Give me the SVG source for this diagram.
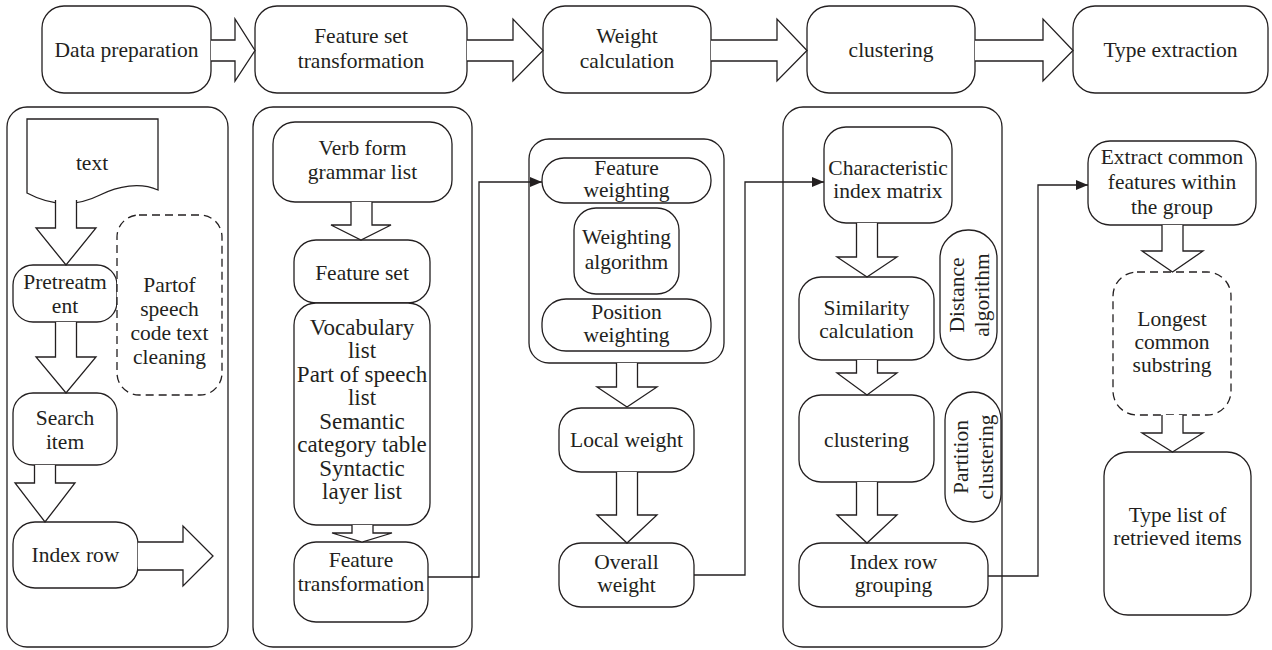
<svg xmlns="http://www.w3.org/2000/svg" width="1272" height="650" viewBox="0 0 1272 650">
<defs>
<style>
.b{fill:#fff;stroke:#231f20;stroke-width:1.3}
.d{fill:#fff;stroke:#231f20;stroke-width:1.3;stroke-dasharray:8 5}
.a{fill:#fff;stroke:#231f20;stroke-width:1.3;stroke-linejoin:miter}
.c{fill:none;stroke:#231f20;stroke-width:1.3}
text{font-family:"Liberation Serif","Times New Roman",serif;font-size:21.5px;fill:#231f20;text-anchor:middle}
.v text,text.v{font-size:23px}
</style>
<marker id="ah" markerWidth="12" markerHeight="10" refX="12" refY="5" orient="auto" markerUnits="userSpaceOnUse">
<path d="M0,0 L12,5 L0,10 Z" fill="#231f20"/>
</marker>
</defs>
<rect width="1272" height="650" fill="#fff"/>

<!-- Top row -->
<g id="top-data-preparation"><rect class="b" x="42" y="6" width="169" height="87" rx="22"/><text x="126.5" y="57">Data preparation</text></g>
<g id="top-feature-set-transformation"><rect class="b" x="255" y="6" width="212" height="87" rx="22"/><text x="361" y="43">Feature set</text><text x="361" y="68">transformation</text></g>
<g id="top-weight-calculation"><rect class="b" x="543" y="6" width="168" height="87" rx="22"/><text x="627" y="43">Weight</text><text x="627" y="68">calculation</text></g>
<g id="top-clustering"><rect class="b" x="807" y="6" width="168" height="87" rx="22"/><text x="891" y="57">clustering</text></g>
<g id="top-type-extraction"><rect class="b" x="1073" y="6" width="195" height="87" rx="22"/><text x="1170.5" y="57">Type extraction</text></g>

<!-- Panels -->
<g id="panel-data-preparation"><rect class="b" x="7" y="107" width="221" height="540" rx="20"/></g>
<g id="panel-feature-set"><rect class="b" x="253" y="107" width="219" height="540" rx="20"/></g>
<g id="panel-weighting"><rect class="b" x="529" y="139" width="195" height="224" rx="20"/></g>
<g id="panel-clustering"><rect class="b" x="783" y="107" width="219" height="540" rx="20"/></g>

<!-- Panel 1 nodes -->
<g id="n-text"><path class="b" d="M27,119 H158 V190 C140,182 118,186 100,195 C80,205 55,208 27,193 Z"/><text x="92" y="170">text</text></g>
<g id="n-pretreatment"><rect class="b" x="13" y="265" width="104" height="57" rx="20"/><text x="65" y="289">Pretreatm</text><text x="65" y="313">ent</text></g>
<g id="n-pos-cleaning"><rect class="d" x="117" y="215" width="105" height="180" rx="22"/><text x="169.5" y="292">Partof</text><text x="169.5" y="316">speech</text><text x="169.5" y="340">code text</text><text x="169.5" y="364">cleaning</text></g>
<g id="n-search-item"><rect class="b" x="13" y="393" width="104" height="72" rx="20"/><text x="65" y="425">Search</text><text x="65" y="449">item</text></g>
<g id="n-index-row"><rect class="b" x="13" y="522" width="125" height="66" rx="22"/><text x="75.5" y="562">Index row</text></g>

<!-- Panel 2 nodes -->
<g id="n-verb-form"><rect class="b" x="273" y="122" width="179" height="80" rx="22"/><text x="362.5" y="155">Verb form</text><text x="362.5" y="179">grammar list</text></g>
<g id="n-feature-set"><rect class="b" x="294" y="240" width="136" height="63" rx="22"/><text x="362" y="280">Feature set</text></g>
<g id="n-vocab" class="v"><rect class="b" x="294" y="303" width="136" height="222" rx="22"/>
<text x="362" y="334.5">Vocabulary</text><text x="362" y="358">list</text><text x="362" y="381.5">Part of speech</text><text x="362" y="405">list</text><text x="362" y="428.5">Semantic</text><text x="362" y="452">category table</text><text x="362" y="475.5">Syntactic</text><text x="362" y="499">layer list</text></g>
<g id="n-feature-transformation"><rect class="b" x="294" y="542" width="134" height="80" rx="22"/><text x="361" y="567">Feature</text><text x="361" y="591">transformation</text></g>

<!-- Panel 3 nodes -->
<g id="n-feature-weighting"><rect class="b" x="542" y="158" width="169" height="45" rx="22"/><text x="626.5" y="175">Feature</text><text x="626.5" y="197">weighting</text></g>
<g id="n-weighting-algorithm"><rect class="b" x="574" y="208" width="105" height="86" rx="22"/><text x="626.5" y="244">Weighting</text><text x="626.5" y="269">algorithm</text></g>
<g id="n-position-weighting"><rect class="b" x="542" y="299" width="169" height="52" rx="24"/><text x="626.5" y="319">Position</text><text x="626.5" y="342">weighting</text></g>
<g id="n-local-weight"><rect class="b" x="559" y="408" width="135" height="64" rx="22"/><text x="626.5" y="447">Local weight</text></g>
<g id="n-overall-weight"><rect class="b" x="559" y="543" width="135" height="64" rx="22"/><text x="626.5" y="569">Overall</text><text x="626.5" y="592">weight</text></g>

<!-- Panel 4 nodes -->
<g id="n-characteristic"><rect class="b" x="824" y="127" width="128" height="96" rx="22"/><text x="888" y="175">Characteristic</text><text x="888" y="198">index matrix</text></g>
<g id="n-similarity"><rect class="b" x="799" y="277" width="135" height="83" rx="22"/><text x="866.5" y="315">Similarity</text><text x="866.5" y="338">calculation</text></g>
<g id="n-distance"><rect class="b" x="940" y="230" width="57" height="130" rx="28"/><text transform="translate(968.5,295) rotate(-90)"><tspan x="0" y="-5">Distance</tspan><tspan x="0" y="20">algorithm</tspan></text></g>
<g id="n-clustering"><rect class="b" x="799" y="395" width="135" height="87" rx="22"/><text x="866.5" y="447">clustering</text></g>
<g id="n-partition"><rect class="b" x="945" y="392" width="56" height="130" rx="28"/><text transform="translate(973,457) rotate(-90)"><tspan x="0" y="-5">Partition</tspan><tspan x="0" y="20">clustering</tspan></text></g>
<g id="n-index-row-grouping"><rect class="b" x="799" y="543" width="189" height="64" rx="22"/><text x="893.5" y="569">Index row</text><text x="893.5" y="592">grouping</text></g>

<!-- Panel 5 nodes -->
<g id="n-extract"><rect class="b" x="1088" y="141" width="168" height="84" rx="22"/><text x="1172" y="164">Extract common</text><text x="1172" y="189">features within</text><text x="1172" y="214">the group</text></g>
<g id="n-longest"><rect class="d" x="1113" y="272" width="118" height="143" rx="24"/><text x="1172" y="326">Longest</text><text x="1172" y="349">common</text><text x="1172" y="372">substring</text></g>
<g id="n-type-list"><rect class="b" x="1104" y="452" width="147" height="163" rx="24"/><text x="1177.5" y="522">Type list of</text><text x="1177.5" y="545">retrieved items</text></g>

<!-- Connectors -->
<g id="connectors">
<path class="a" d="M211,40 H235 V19 L255,50.5 L235,81 V61 H211"/>
<path class="a" d="M467,40 H513 V19 L543,50.5 L513,81 V61 H467"/>
<path class="a" d="M711,40 H777 V19 L807,50.5 L777,81 V61 H711"/>
<path class="a" d="M975,40 H1043 V19 L1073,50.5 L1043,81 V61 H975"/>

<path class="a" d="M55.5,200 V228 H36 L66,265 L96,228 H76.5 V200"/>
<path class="a" d="M55.5,322 V357 H36 L66,393 L96,357 H76.5 V322"/>
<path class="a" d="M34.5,465 V483 H15 L45,522 L75,483 H55.5 V465"/>
<path class="a" d="M138,542 H183 V526 L213,556 L183,586 V570 H138"/>

<path class="a" d="M351,202 V225 H331 L361,240 L391,225 H372 V202"/>
<path class="a" d="M352,525 V533 H332 L362,542 L392,533 H373 V525"/>

<path class="a" d="M616.5,363 V387 H597 L627,407 L657,387 H637.5 V363"/>
<path class="a" d="M616.5,472 V515 H597 L627,543 L657,515 H637.5 V472"/>

<path class="a" d="M856.5,223 V257 H837 L867,277 L897,257 H877.5 V223"/>
<path class="a" d="M856.5,360 V373 H837 L867,395 L897,373 H877.5 V360"/>
<path class="a" d="M856.5,482 V515 H837 L867,543 L897,515 H877.5 V482"/>

<path class="a" d="M1162,225 V251 H1142 L1172.5,272 L1203,251 H1183 V225"/>
<path class="a" d="M1162,415 V433 H1142 L1172.5,452 L1203,433 H1183 V415"/>

<path class="c" d="M428,577 H479 V182 H542" marker-end="url(#ah)"/>
<path class="c" d="M694,575 H745 V182 H824" marker-end="url(#ah)"/>
<path class="c" d="M988,576 H1038 V185 H1088" marker-end="url(#ah)"/>
</g>
</svg>
